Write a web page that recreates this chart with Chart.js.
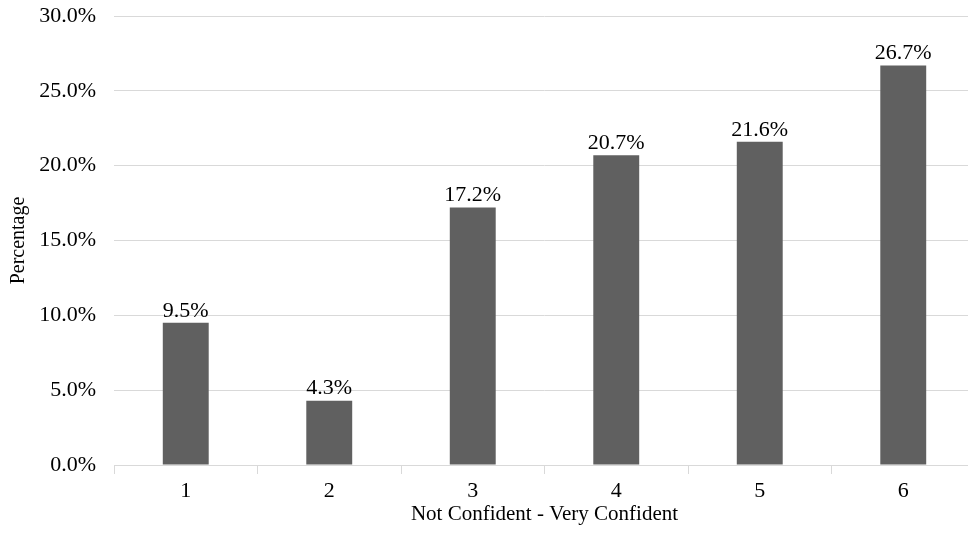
<!DOCTYPE html>
<html>
<head>
<meta charset="utf-8">
<script src="https://cdn.jsdelivr.net/npm/chart.js@4/dist/chart.umd.min.js"></script>
<style>
  html, body { margin: 0; padding: 0; background: #fff; overflow: hidden; }
  #wrap { width: 975px; height: 535px; }
</style>
</head>
<body>
<div id="wrap"><canvas id="chart0" width="975" height="535"></canvas></div>
<script>
// confidence rating 1..6, share of respondents in percent
const categories = ['1', '2', '3', '4', '5', '6'];
const percentages = [9.5, 4.3, 17.2, 20.7, 21.6, 26.7];
const yTicks = [0, 5, 10, 15, 20, 25, 30];

const fontFamily = '"Liberation Serif", "Times New Roman", serif';

// writes the value above each bar
const barLabels = {
  id: 'barLabels',
  afterDatasetsDraw(chart)
  {
    let ctx = chart.ctx;
    let meta = chart.getDatasetMeta(0);
    ctx.save();
    ctx.font = '22px ' + fontFamily;
    ctx.fillStyle = '#000';
    ctx.textAlign = 'center';
    ctx.textBaseline = 'bottom';
    meta.data.forEach((bar, i) =>
    {
      ctx.fillText(percentages[i].toFixed(1) + '%', bar.x, bar.y - 1);
    });
    ctx.restore();
  }
};

new Chart(document.getElementById('chart0'),
{
  type: 'bar',
  data:
  {
    labels: categories,
    datasets: [{
      data: percentages,
      backgroundColor: '#606060',
      barPercentage: 0.32,
      categoryPercentage: 1.0
    }]
  },
  options:
  {
    responsive: false,
    animation: false,
    layout: { padding: { top: 16, right: 0, bottom: 0, left: 0 } },
    plugins: { legend: { display: false }, tooltip: { enabled: false } },
    scales:
    {
      x:
      {
        offset: true,
        afterFit: (axis) => { axis.height = 70; },
        grid: { offset: true, drawOnChartArea: false, color: '#d9d9d9', tickLength: 9 },
        border: { color: '#d9d9d9' },
        ticks: { color: '#000', font: { family: fontFamily, size: 22 }, padding: 4 },
        title: { display: true, text: 'Not Confident - Very Confident', color: '#000', font: { family: fontFamily, size: 21 }, padding: { top: 0, bottom: 8 } }
      },
      y:
      {
        min: 0,
        max: 30,
        afterFit: (axis) =>
        {
          axis.width = 114;
          axis.paddingTop = 0;
          axis.paddingBottom = 0;
        },
        afterBuildTicks: (axis) => { axis.ticks = yTicks.map(v => ({ value: v })); },
        grid: { color: '#d9d9d9', drawTicks: false },
        border: { display: false },
        ticks: { color: '#000', font: { family: fontFamily, size: 22 }, padding: 18, callback: (v) => v.toFixed(1) + '%' },
        title: { display: true, text: 'Percentage', color: '#000', font: { family: fontFamily, size: 20 }, padding: { top: 7, bottom: 0 } }
      }
    }
  },
  plugins: [barLabels]
});
</script>
</body>
</html>
